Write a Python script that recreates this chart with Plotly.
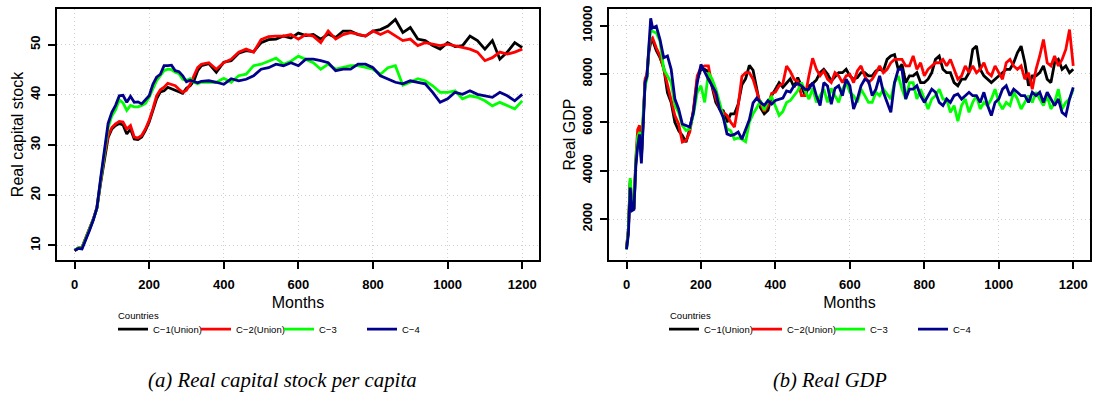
import plotly.graph_objects as go

# ---------------- data: (a) real capital stock per capita ----------------
months_a = list(range(0, 341, 10)) + list(range(360, 1201, 20))

cap_c1 = [9.0, 9.5, 9.6, 11.3, 13.3, 15.1, 17.4, 22.5, 27.5, 31.5, 33.2, 33.9, 34.3, 34.0, 32.2, 33.2, 31.2, 31.1,
          31.6, 32.9, 34.6, 36.7, 39.2, 40.6, 40.8, 41.5, 41.2, 41.0, 40.6, 40.3, 41.3, 41.8, 42.8, 44.8, 45.8,
          46.2, 44.5, 46.5, 46.8, 48.3, 48.8, 48.6, 50.4, 51.0, 51.1,
          51.7, 51.3, 52.3, 51.8, 52.0, 51.1, 52.1, 51.4, 52.7, 52.7,
          52.0, 51.7, 52.7, 53.0, 53.7, 55.0, 52.4, 53.4, 51.1, 50.8,
          49.8, 49.1, 50.4, 49.6, 49.8, 51.7, 50.8, 49.1, 50.8, 47.1,
          48.5, 50.4, 49.4]
cap_c2 = [9.0, 9.5, 9.6, 11.4, 13.4, 15.2, 17.6, 22.8, 27.8, 31.8, 33.5, 34.2, 34.7, 34.6, 33.2, 33.9, 31.6, 31.4,
          31.9, 33.2, 34.9, 37.2, 39.8, 41.0, 41.5, 42.3, 42.1, 41.8, 41.1, 40.5, 40.9, 42.1, 43.8, 45.4, 46.1,
          46.4, 45.1, 46.4, 47.1, 48.5, 49.1, 48.5, 51.0, 51.6, 51.7,
          51.7, 52.0, 51.1, 52.0, 51.7, 50.4, 52.7, 51.1, 52.0, 52.4,
          52.0, 51.7, 52.7, 52.0, 52.7, 51.7, 50.8, 51.1, 49.8, 50.4,
          50.1, 49.8, 50.1, 49.8, 49.4, 49.1, 48.5, 46.8, 47.4, 48.5,
          48.1, 48.5, 49.1]
cap_c3 = [9.0, 9.5, 9.5, 11.2, 13.2, 15.1, 17.5, 23.0, 28.2, 33.5, 35.8, 37.0, 39.0, 38.4, 36.9, 37.9, 37.6, 37.6,
          37.9, 38.3, 39.5, 41.3, 42.8, 43.8, 44.8, 45.1, 45.0, 44.5, 44.2, 43.1, 42.9, 43.2, 42.5, 42.2, 42.5,
          42.5, 42.5, 43.3, 42.5, 43.8, 44.1, 45.8, 46.1, 46.7, 47.3,
          46.1, 46.7, 47.7, 47.1, 46.4, 45.1, 46.1, 45.1, 45.4, 45.8,
          45.8, 45.4, 45.1, 44.1, 45.4, 45.8, 41.9, 42.5, 43.2, 42.8,
          41.8, 40.5, 40.5, 40.8, 39.2, 39.8, 39.5, 38.8, 37.8, 38.5,
          37.8, 37.2, 38.8]
cap_c4 = [9.0, 9.4, 9.3, 11.0, 13.0, 15.0, 17.5, 23.4, 28.8, 34.3, 36.5, 37.9, 39.8, 39.9, 38.5, 39.7, 38.5, 38.6,
          38.2, 38.9, 39.8, 42.1, 43.5, 44.1, 45.8, 45.8, 45.9, 44.8, 44.6, 43.8, 42.6, 42.9, 42.6, 42.4, 42.7,
          42.8, 42.5, 42.1, 43.2, 42.8, 43.1, 43.8, 45.1, 45.4, 46.1,
          45.8, 46.4, 45.8, 47.1, 47.1, 46.8, 46.4, 44.8, 45.1, 45.1,
          46.1, 46.1, 45.4, 43.8, 43.2, 42.5, 42.2, 42.8, 42.5, 42.2,
          40.5, 38.5, 39.2, 40.5, 40.1, 40.8, 40.1, 39.8, 39.5, 40.5,
          39.8, 38.8, 40.1]

# ---------------- data: (b) real GDP ----------------
months_b = list(range(0, 71, 5)) + list(range(80, 1201, 10))

gdp_c1 = [800, 1600, 3600, 2400, 2450, 4300, 5300, 5700, 4500, 6500, 7700, 7900, 8900, 9300, 9400,
          8970, 8670, 8260, 7230, 6820, 6000, 5660, 5450, 5180, 5730,
          6480, 7780, 8190, 8190, 8100, 7440, 6820, 6550, 6480, 6000,
          6350, 6350, 6750, 7550, 7800, 8350, 8150, 7370, 6600, 6350,
          6500, 7100, 7400, 7640, 7450, 7650, 7800, 7450, 7850, 7500,
          7100, 7500, 7600, 7750, 8050, 8190, 8000, 7700, 7900, 8050,
          8050, 8190, 7920, 7780, 7850, 8050, 8050, 7920, 7920, 8120,
          8190, 8120, 8600, 8740, 8800, 8190, 8400, 7640, 7920, 7920,
          8050, 7640, 7640, 7780, 8050, 8600, 8740, 8190, 8050, 8050,
          7640, 7510, 7780, 7780, 8050, 9010, 9150, 8190, 7920, 7780,
          7640, 7780, 7920, 8050, 8190, 8190, 8460, 8870, 9150, 8460,
          7510, 7920, 7920, 8050, 8330, 7780, 7640, 8460, 8600, 8190,
          8330, 8050, 8190]
gdp_c2 = [800, 1500, 3500, 2400, 2450, 4500, 5700, 5870, 4600, 6600, 7800, 8000, 9000, 9400, 9490,
          9080, 8740, 8190, 7510, 6960, 6280, 5930, 5180, 5250, 5590,
          6550, 7920, 8260, 8330, 8330, 7510, 7000, 6550, 6410, 6280,
          6000, 5800, 6690, 7900, 8050, 8050, 7780, 7250, 6750, 6450,
          6700, 7200, 7250, 7510, 7600, 8330, 8100, 7780, 7700, 7100,
          7100, 7920, 8650, 8190, 7920, 8120, 7780, 7640, 8050, 7920,
          7640, 7920, 7980, 7640, 8120, 8330, 7920, 7640, 7780, 8050,
          8330, 8050, 8190, 8460, 8600, 8600, 8600, 8330, 8330, 8740,
          8190, 8460, 7920, 8190, 8330, 8460, 8460, 8600, 8330, 8600,
          8190, 7780, 7920, 8330, 8050, 8330, 8050, 8190, 8460, 8050,
          7920, 8330, 8050, 7780, 8460, 8600, 8330, 8190, 8330, 7780,
          8050, 7370, 8190, 8740, 9420, 8460, 8330, 8740, 8330, 8600,
          9010, 9830, 8330]
gdp_c3 = [750, 1500, 3700, 2400, 2450, 4400, 5400, 5600, 4500, 6400, 7500, 7800, 9100, 9800, 9760,
          9690, 9350, 8190, 7920, 7650, 6690, 6410, 5860, 5660, 5730,
          6340, 7230, 7510, 6820, 8050, 7780, 7370, 6820, 6200, 5730,
          5650, 5300, 5350, 5300, 5200, 6000, 6350, 6600, 6900, 6500,
          6900, 7050, 6650, 6280, 6450, 6820, 6900, 7100, 7300, 7640,
          7300, 6960, 7400, 6820, 7100, 7370, 6820, 7400, 7100, 6820,
          7370, 7640, 7240, 7100, 6820, 7370, 7100, 6820, 6820, 7240,
          7100, 7370, 7170, 6960, 7640, 7920, 7370, 6960, 7640, 7640,
          6960, 7370, 6960, 6550, 6960, 7100, 7370, 6960, 6960, 6410,
          6690, 6050, 6690, 6960, 6410, 6820, 7100, 6550, 6820, 6690,
          6960, 7370, 6820, 6550, 6820, 6690, 7240, 6960, 6550, 6820,
          7100, 6820, 7240, 6960, 6690, 7100, 6550, 6820, 7370, 6550,
          6820, 6960, 7370]
gdp_c4 = [750, 1360, 3300, 2350, 2400, 4200, 5000, 5500, 4300, 6000, 7640, 7900, 9150, 10300, 9900,
          9970, 9420, 8670, 8740, 8190, 6960, 6550, 5930, 5870, 5800,
          6410, 7640, 8390, 8050, 7780, 7510, 7230, 6550, 6200, 5520,
          5450, 5500, 5600, 5300, 5730, 6100, 6800, 7000, 6820, 6700,
          6900, 6750, 6900, 6950, 7000, 7300, 7250, 7510, 7600, 7510,
          7350, 7370, 7640, 7100, 6690, 7640, 7500, 6750, 7400, 7510,
          7100, 7780, 7510, 6550, 6960, 7510, 7780, 7710, 7100, 7370,
          7920, 7240, 6820, 6410, 7640, 8190, 8190, 6960, 7370, 7370,
          7510, 7100, 6820, 7100, 7370, 7240, 6820, 6690, 6960, 6820,
          7100, 7170, 6960, 7100, 7240, 7100, 7100, 6820, 7240, 6690,
          6280, 6820, 6960, 7370, 7510, 7100, 7370, 7240, 7100, 7100,
          6820, 7240, 7100, 7240, 6820, 7240, 6960, 6690, 6960, 6410,
          6280, 6960, 7440]

series_names = ["C\u22121(Union)", "C\u22122(Union)", "C\u22123", "C\u22124"]
series_colors = ["#000000", "#FF0000", "#00FF00", "#00008B"]

cap_series = [cap_c1, cap_c2, cap_c3, cap_c4]
gdp_series = [gdp_c1, gdp_c2, gdp_c3, gdp_c4]

W, H = 1095, 394
FONT = "Liberation Sans, Arial, sans-serif"
SERIF = "Liberation Serif, Times New Roman, serif"

fig = go.Figure()
for name, col, ys in zip(series_names, series_colors, cap_series):
    fig.add_trace(go.Scatter(x=months_a, y=ys, mode="lines", name=name,
                             line=dict(color=col, width=2.8), xaxis="x", yaxis="y",
                             legend="legend"))
for name, col, ys in zip(series_names, series_colors, gdp_series):
    fig.add_trace(go.Scatter(x=months_b, y=ys, mode="lines", name=name,
                             line=dict(color=col, width=2.8), xaxis="x2", yaxis="y2",
                             legend="legend2"))

def px_x(p):
    return p / W

def px_y(p):
    return 1 - p / H

common_x = dict(showline=True, linecolor="black", linewidth=2, mirror=True,
                ticks="outside", ticklen=7, tickwidth=1.5, tickcolor="black",
                tickfont=dict(family=FONT, size=13, color="black", weight="bold"),
                showgrid=True, gridcolor="#cfcfcf", griddash="1px,3px", gridwidth=1,
                zeroline=False, tickvals=[0, 200, 400, 600, 800, 1000, 1200],
                range=[-47, 1245], ticklabelstandoff=4,
                title=dict(text="Months", font=dict(family=FONT, size=16, color="black"), standoff=6))
common_y = dict(showline=True, linecolor="black", linewidth=2, mirror=True,
                ticks="outside", ticklen=7, tickwidth=1.5, tickcolor="black",
                tickfont=dict(family=FONT, size=13, color="black", weight="bold"),
                tickangle=-90, showgrid=True, gridcolor="#cfcfcf", griddash="1px,3px", gridwidth=1,
                zeroline=False, ticklabelstandoff=3, tickformat="d")

leg_common = dict(orientation="h", xanchor="left", yanchor="top", y=px_y(314),
                  font=dict(family=FONT, size=9.5, color="black"),
                  entrywidth=38, entrywidthmode="pixels", bgcolor="rgba(0,0,0,0)",
                  itemwidth=30, tracegroupgap=0)

fig.update_layout(
    width=W, height=H, margin=dict(l=0, r=0, t=0, b=0),
    paper_bgcolor="white", plot_bgcolor="white",
    font=dict(family=FONT, color="black"),
    xaxis=dict(domain=[px_x(57), px_x(539)], anchor="y", **common_x),
    yaxis=dict(domain=[px_y(259), px_y(6)], anchor="x", range=[7.1, 57.1],
               tickvals=[10, 20, 30, 40, 50],
               title=dict(text="Real capital stock", font=dict(family=FONT, size=16, color="black"), standoff=0),
               **common_y),
    xaxis2=dict(domain=[px_x(609), px_x(1090)], anchor="y2", **common_x),
    yaxis2=dict(domain=[px_y(259), px_y(6)], anchor="x2", range=[307, 10684],
                tickvals=[2000, 4000, 6000, 8000, 10000],
                title=dict(text="Real GDP", font=dict(family=FONT, size=16, color="black"), standoff=0),
                **common_y),
    legend=dict(x=px_x(113), **leg_common),
    legend2=dict(x=px_x(664), **leg_common),
    annotations=[
        dict(text="Countries", x=px_x(116), y=px_y(315), xref="paper", yref="paper",
             showarrow=False, xanchor="left", yanchor="middle",
             font=dict(family=FONT, size=9.5, color="black")),
        dict(text="Countries", x=px_x(668), y=px_y(315), xref="paper", yref="paper",
             showarrow=False, xanchor="left", yanchor="middle",
             font=dict(family=FONT, size=9.5, color="black")),
        dict(text="<i>(a) Real capital stock per capita</i>", x=px_x(282), y=px_y(380),
             xref="paper", yref="paper", showarrow=False, xanchor="center", yanchor="middle",
             font=dict(family=SERIF, size=20.8, color="black")),
        dict(text="<i>(b) Real GDP</i>", x=px_x(830), y=px_y(380),
             xref="paper", yref="paper", showarrow=False, xanchor="center", yanchor="middle",
             font=dict(family=SERIF, size=20.5, color="black")),
    ],
)

fig.write_html("out.html")
